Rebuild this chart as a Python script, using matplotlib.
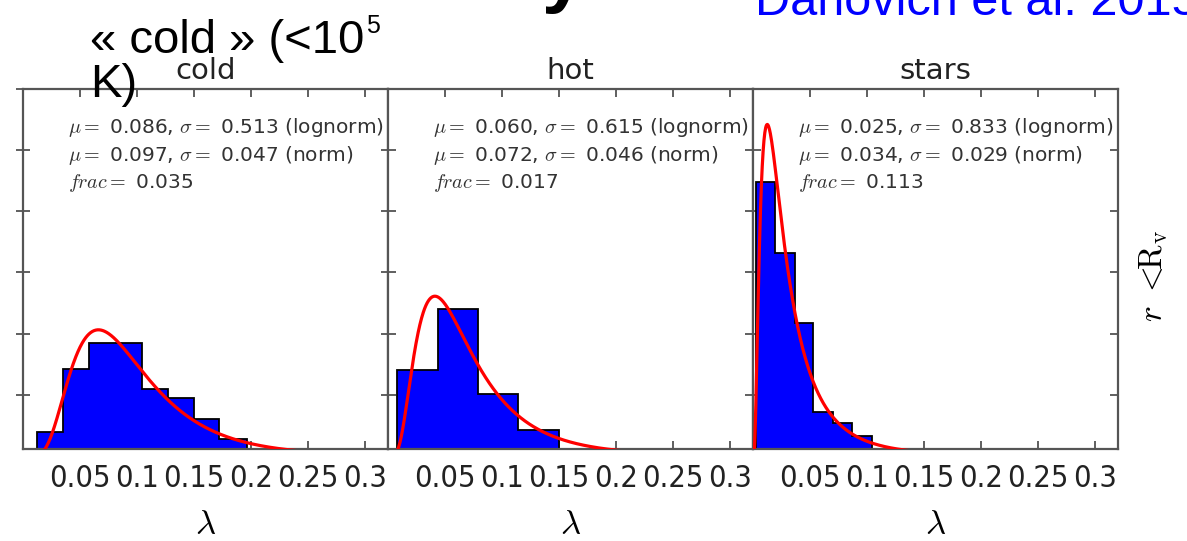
import numpy as np
import matplotlib.pyplot as plt

# spin parameter histograms (density) for each gas phase, r < Rv
panels = ["cold", "hot", "stars"]

cold_edges = [0.012, 0.035, 0.058, 0.081, 0.104, 0.127, 0.150, 0.172, 0.196]
cold_heights = [2.0, 7.1, 9.2, 9.2, 5.5, 4.7, 3.0, 1.4]
hot_edges = [0.008, 0.044, 0.079, 0.114, 0.150]
hot_heights = [7.0, 12.0, 5.1, 2.1]
stars_edges = [0.003, 0.019, 0.037, 0.053, 0.070, 0.087, 0.104]
stars_heights = [22.4, 16.6, 10.9, 3.6, 2.7, 1.6]

# fitted parameters
lognorm_mu = [0.086, 0.060, 0.025]
lognorm_sigma = [0.513, 0.615, 0.833]
norm_mu = [0.097, 0.072, 0.034]
norm_sigma = [0.047, 0.046, 0.029]
frac = [0.035, 0.017, 0.113]

xticks = [0.05, 0.1, 0.15, 0.2, 0.25, 0.3]
xtick_labels = ["0.05", "0.1", "0.15", "0.2", "0.25", "0.3"]

edges = [cold_edges, hot_edges, stars_edges]
heights = [cold_heights, hot_heights, stars_heights]

plt.rcParams['mathtext.fontset'] = 'cm'

W, H = 1187, 541
fig = plt.figure(figsize=(W / 100, H / 100), dpi=100)


def px(x, y):
    return x / W, 1 - y / H


def lognorm_pdf(x, median, s):
    return np.exp(-np.log(x / median) ** 2 / (2 * s ** 2)) / (x * s * np.sqrt(2 * np.pi))


lefts = [23, 388, 753]
ax_w, top, bottom = 365, 89, 449
x = np.linspace(0.001, 0.3, 800)

for i, name in enumerate(panels):
    l, b = px(lefts[i], bottom)
    ax = fig.add_axes([l, b, ax_w / W, (bottom - top) / H])
    ax.stairs(heights[i], edges[i], fill=True, facecolor='#0000ff',
              edgecolor='black', linewidth=1.3, zorder=2)
    ax.plot(x, lognorm_pdf(x, lognorm_mu[i], lognorm_sigma[i]),
            color='red', lw=2.3, zorder=3)
    ax.set_xlim(0, 0.32)
    ax.set_ylim(0.57, 30)
    ax.set_yticks([5, 10, 15, 20, 25, 30])
    ax.set_xticks(xticks)
    ax.set_xticklabels(xtick_labels, fontsize=22, fontstretch='condensed',
                       color='#222222')
    ax.tick_params(direction='in', length=6, width=1.2, color='#444444',
                   top=True, right=True, labelleft=False, pad=11)
    if i == 0:
        ax.tick_params(axis='y', which='both', left=True, direction='inout',
                       length=10)
    for sp in ax.spines.values():
        sp.set_color('#555555')
        sp.set_linewidth(1.6)
    ax.set_title(name, fontsize=21, color='#222222', pad=7)
    ax.set_xlabel(r"$\lambda$", fontsize=25, labelpad=10)

    info = [
        r"$\mu=$ %.3f, $\sigma=$ %.3f (lognorm)" % (lognorm_mu[i], lognorm_sigma[i]),
        r"$\mu=$ %.3f, $\sigma=$ %.3f (norm)" % (norm_mu[i], norm_sigma[i]),
        r"$frac=$ %.3f" % frac[i],
    ]
    for k, line in enumerate(info):
        ax.text(0.123, 0.894 - 0.078 * k, line, transform=ax.transAxes,
                fontsize=14.5, color='#333333', va='center', ha='left')

# row label on the right
fig.text(*px(1153, 276), r"$r\ <\!\!\mathrm{R}_{\mathrm{v}}$", rotation=90,
         fontsize=24, ha='center', va='center')

# slide annotations
fig.text(*px(90, 53), "« cold » (<10", fontsize=34, family='Liberation Sans',
         ha='left', va='baseline')
fig.text(*px(366, 33), "5", fontsize=18, family='Liberation Sans',
         ha='left', va='baseline')
fig.text(*px(90, 97), "K)", fontsize=34, family='Liberation Sans',
         ha='left', va='baseline')
fig.text(*px(755, 15), "Danovich et al. 2015", fontsize=35, color='#0000ff',
         family='Liberation Sans', ha='left', va='baseline')
fig.text(*px(541, -2), "y", fontsize=56, fontweight='bold',
         family='Liberation Sans', ha='left', va='baseline')

fig.savefig("out.png", dpi=100)
